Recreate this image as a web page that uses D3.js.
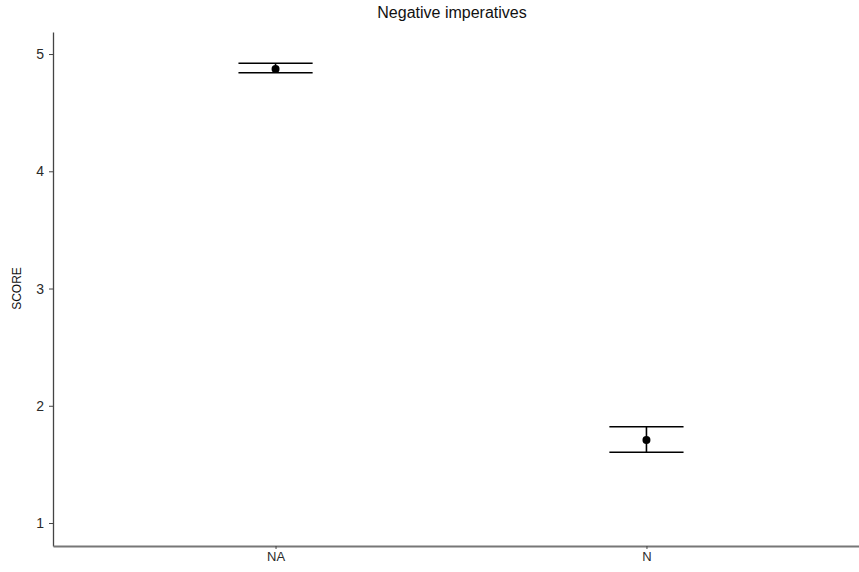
<!DOCTYPE html>
<html>
<head>
<meta charset="utf-8">
<script src="https://cdn.jsdelivr.net/npm/d3@7"></script>
<style>
  body { margin: 0; background: #fff; }
  svg { display: block; font-family: "Liberation Sans", Arial, sans-serif; }
</style>
</head>
<body>
<div id="chart"></div>
<script>
var categories = ["NA", "N"];
var means = [4.872, 1.708];
var lower = [4.841, 1.603];
var upper = [4.921, 1.821];
var yTicks = [1, 2, 3, 4, 5];

var W = 859, H = 572;
var margin = { top: 32, right: -10, bottom: 26, left: 53 };
var width = W - margin.left - margin.right,
    height = H - margin.top - margin.bottom;

var svg = d3.select("#chart").append("svg")
    .attr("width", W)
    .attr("height", H);

var g = svg.append("g")
    .attr("transform", "translate(" + margin.left + "," + margin.top + ")");

var x = d3.scalePoint().domain(categories).range([0, width]).padding(0.6);
var y = d3.scaleLinear().domain([0.804, 5.188]).range([height, 0]);
var step = x.step();

var data = categories.map(function(c, i) {
    return { cat: c, mean: means[i], lo: lower[i], hi: upper[i] };
});

// axes
var yAxis = g.append("g")
    .call(d3.axisLeft(y).tickValues(yTicks).tickFormat(d3.format("d"))
        .tickSize(4).tickPadding(5).tickSizeOuter(0));
yAxis.select(".domain").attr("stroke", "#444").attr("stroke-width", 1.3);
yAxis.selectAll(".tick line").attr("stroke", "#444");
yAxis.selectAll("text").attr("fill", "#2a2a2a").style("font-size", "14px");

var xAxis = g.append("g")
    .attr("transform", "translate(0," + height + ")")
    .call(d3.axisBottom(x).tickSize(3).tickPadding(3).tickSizeOuter(0));
xAxis.select(".domain").attr("stroke", "#777").attr("stroke-width", 1.8);
xAxis.selectAll(".tick line").attr("stroke", "#444");
xAxis.selectAll("text").attr("fill", "#2a2a2a").style("font-size", "13px");

// error bars
var bars = g.selectAll(".eb").data(data).enter().append("g").attr("class", "eb");
bars.append("line")
    .attr("x1", function(d) { return x(d.cat); })
    .attr("x2", function(d) { return x(d.cat); })
    .attr("y1", function(d) { return y(d.lo); })
    .attr("y2", function(d) { return y(d.hi); })
    .attr("stroke", "#000").attr("stroke-width", 1.6);
["lo", "hi"].forEach(function(k) {
    bars.append("line")
        .attr("x1", function(d) { return x(d.cat) - step * 0.1; })
        .attr("x2", function(d) { return x(d.cat) + step * 0.1; })
        .attr("y1", function(d) { return y(d[k]); })
        .attr("y2", function(d) { return y(d[k]); })
        .attr("stroke", "#000").attr("stroke-width", 1.6);
});
bars.append("circle")
    .attr("cx", function(d) { return x(d.cat); })
    .attr("cy", function(d) { return y(d.mean); })
    .attr("r", 4)
    .attr("fill", "#000");

// labels
svg.append("text")
    .attr("x", 452)
    .attr("y", 18)
    .attr("text-anchor", "middle")
    .style("font-size", "16px")
    .attr("fill", "#111")
    .text("Negative imperatives");

svg.append("text")
    .attr("transform", "translate(21," + (margin.top + y(3)) + ") rotate(-90)")
    .attr("text-anchor", "middle")
    .style("font-size", "12px")
    .attr("fill", "#111")
    .text("SCORE");
</script>
</body>
</html>
